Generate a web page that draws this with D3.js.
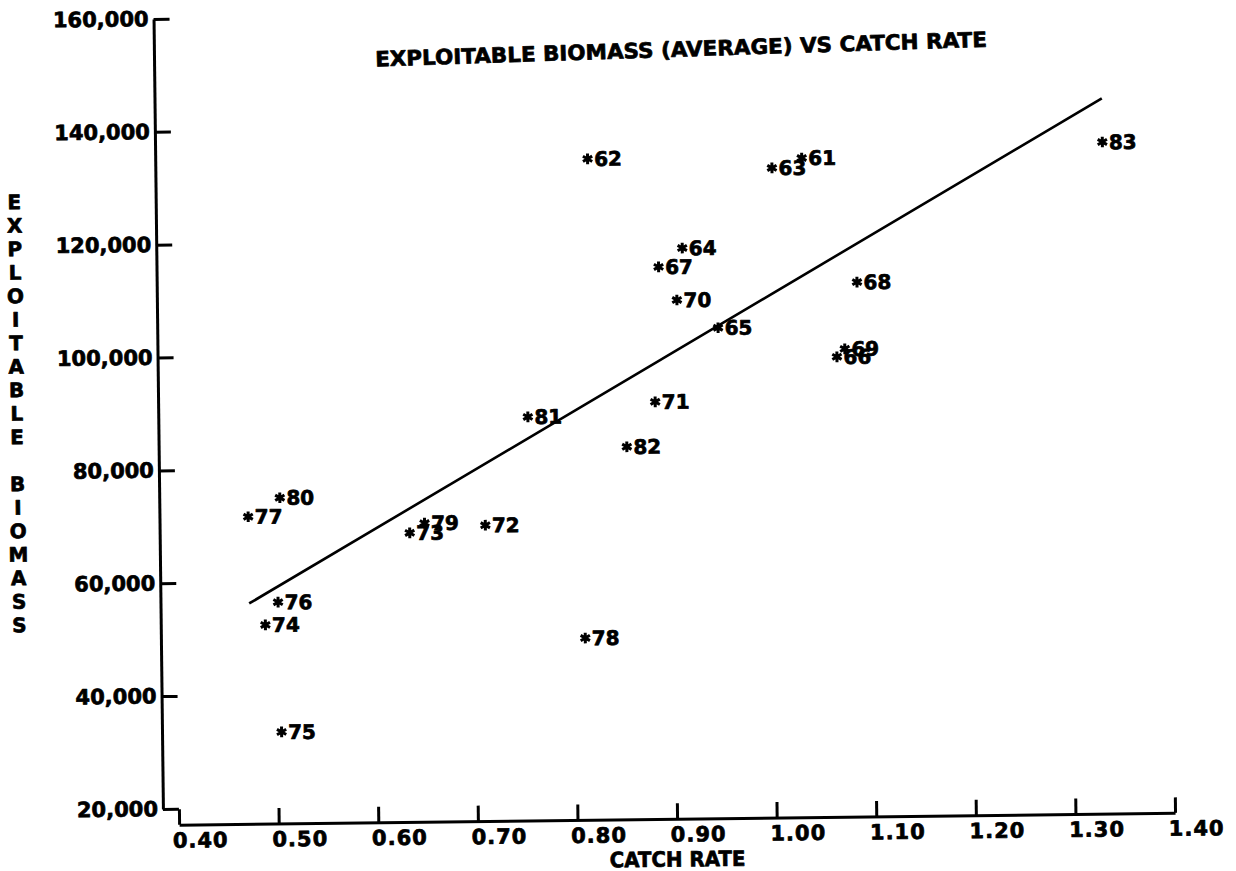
<!DOCTYPE html>
<html>
<head>
<meta charset="utf-8">
<script src="https://cdn.jsdelivr.net/npm/d3@7"></script>
<style>
  html, body { margin: 0; padding: 0; background: #fff; }
  svg { display: block; }
  text { font-family: "DejaVu Sans", sans-serif; font-weight: bold; fill: #000;
         stroke: #000; stroke-width: 0.7px; stroke-linejoin: round; }
</style>
</head>
<body>
<svg id="chart" width="1236" height="871"></svg>
<script>
// Season labels and observations
const years = ["61", "62", "63", "64", "65", "66", "67", "68", "69", "70", "71", "72",
               "73", "74", "75", "76", "77", "78", "79", "80", "81", "82", "83"];
const catchRate = [1.033, 0.818, 1.003, 0.912, 0.947, 1.066, 0.888, 1.087, 1.074, 0.906, 0.883, 0.711,
                   0.635, 0.489, 0.504, 0.502, 0.473, 0.810, 0.650, 0.505, 0.755, 0.854, 1.335];
const biomass = [134000, 134300, 132300, 118300, 104100, 98700, 115000, 111900, 100100, 109100, 91100, 69600,
                 68400, 52400, 33400, 56400, 71600, 49400, 70100, 74900, 88700, 83200, 136200];

// Axis ticks
const xTicks = [0.40, 0.50, 0.60, 0.70, 0.80, 0.90, 1.00, 1.10, 1.20, 1.30, 1.40];
const yTicks = [20000, 40000, 60000, 80000, 100000, 120000, 140000, 160000];

const titleText = "EXPLOITABLE BIOMASS (AVERAGE) VS CATCH RATE";
const xTitle = "CATCH RATE";
const yTitle = "EXPLOITABLE BIOMASS";

const points = years.map((yr, i) => ({ yr, x: catchRate[i], y: biomass[i] }));

// Least-squares line of biomass on catch rate
const mx = d3.mean(catchRate), my = d3.mean(biomass);
const sxy = d3.sum(points, d => (d.x - mx) * (d.y - my));
const sxx = d3.sum(points, d => (d.x - mx) ** 2);
const slope = sxy / sxx;
const intercept = my - slope * mx;
const fitX = d3.extent(catchRate);
const fitLine = fitX.map(v => ({ x: v, y: intercept + slope * v }));

const svg = d3.select("#chart");

// The plotted sheet sits slightly askew
const plot = svg.append("g").attr("transform", "rotate(-0.68, 170, 816)");

const x = d3.scaleLinear().domain([0.4, 1.4]).range([179, 1175]);
const y = d3.scaleLinear().domain([20000, 160000]).range([808.9, 18.8]);

const yAxisX = 163;
const xAxisY = 824.8;

const yAxis = plot.append("g")
  .attr("transform", `translate(${yAxisX},0)`)
  .call(d3.axisLeft(y).tickValues(yTicks).tickSize(-16).tickSizeOuter(0)
        .tickPadding(5).tickFormat(d3.format(",")));

const xAxis = plot.append("g")
  .attr("transform", `translate(0,${xAxisY})`)
  .call(d3.axisBottom(x).tickValues(xTicks).tickSize(-15.5).tickSizeOuter(0)
        .tickPadding(8).tickFormat(d3.format(".2f")));

[yAxis, xAxis].forEach(g => {
  g.select(".domain").attr("stroke", "#000").attr("stroke-width", 3);
  g.selectAll(".tick line").attr("stroke", "#000").attr("stroke-width", 3);
  g.selectAll(".tick text")
    .attr("fill", "#000")
    .style("font-family", "'DejaVu Sans', sans-serif")
    .style("font-weight", "bold")
    .style("font-size", "21px");
});

xAxis.selectAll(".tick text")
  .attr("text-anchor", "start")
  .attr("x", -7)
  .style("letter-spacing", "1px");

// Regression line
plot.append("path")
  .datum(fitLine)
  .attr("fill", "none")
  .attr("stroke", "#000")
  .attr("stroke-width", 2.6)
  .attr("d", d3.line().x(d => x(d.x)).y(d => y(d.y)));

// Point markers and season labels
const marks = plot.append("g").selectAll("g")
  .data(points)
  .join("g")
  .attr("transform", d => `translate(${x(d.x)},${y(d.y)})`);

marks.append("path")
  .attr("d", d3.symbol().type(d3.symbolAsterisk).size(80))
  .attr("fill", "none")
  .attr("stroke", "#000")
  .attr("stroke-width", 3);

marks.append("text")
  .attr("x", 6.5)
  .attr("dy", "0.36em")
  .style("font-size", "20px")
  .text(d => d.yr);

// Axis titles
plot.append("text")
  .attr("x", x(0.9))
  .attr("y", 865)
  .attr("dy", "0.36em")
  .attr("text-anchor", "middle")
  .attr("textLength", 136)
  .attr("lengthAdjust", "spacingAndGlyphs")
  .style("font-size", "21px")
  .text(xTitle);

const yt = plot.append("text")
  .attr("text-anchor", "middle")
  .style("font-size", "20px")
  .style("white-space", "pre");
yt.selectAll("tspan")
  .data(yTitle.split(""))
  .join("tspan")
  .attr("x", 21.6)
  .attr("y", (c, i) => 200.2 + i * 23.5)
  .attr("dy", "0.36em")
  .text(c => c);

// Chart title
svg.append("text")
  .attr("transform", "translate(681,49) rotate(-1.85)")
  .attr("text-anchor", "middle")
  .attr("dy", "0.36em")
  .attr("textLength", 612)
  .attr("lengthAdjust", "spacingAndGlyphs")
  .style("font-size", "21px")
  .text(titleText);
</script>
</body>
</html>
